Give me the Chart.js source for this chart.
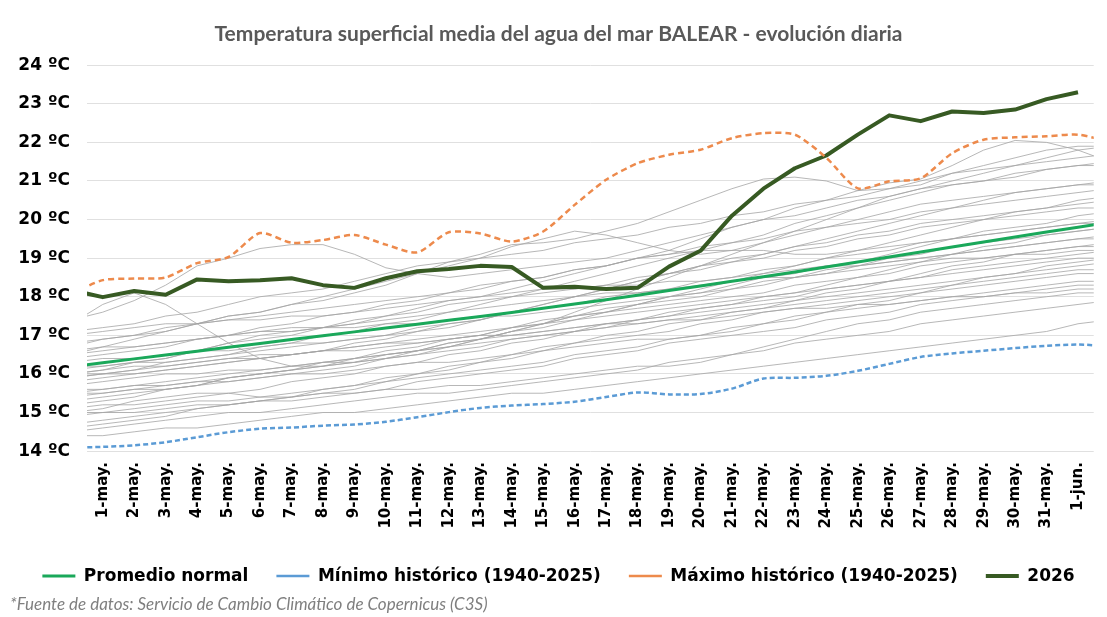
<!DOCTYPE html>
<html lang="es">
<head>
<meta charset="utf-8">
<title>Temperatura superficial media del agua del mar BALEAR</title>
<script src="https://cdn.jsdelivr.net/npm/chart.js@4.4.1/dist/chart.umd.min.js"></script>
<style>
  html, body { margin: 0; padding: 0; background: #fff; }
  #wrap { width: 1107px; height: 617px; }
</style>
</head>
<body>
<div id="wrap"><canvas id="grafico" width="1107" height="617"></canvas></div>
<script>
// dias: el primero (30-abr) y el ultimo (2-jun) quedan fuera del eje, solo se ven cortados en el borde
const dias = ['30-abr.',
  '1-may.', '2-may.', '3-may.', '4-may.', '5-may.', '6-may.', '7-may.', '8-may.', '9-may.', '10-may.',
  '11-may.', '12-may.', '13-may.', '14-may.', '15-may.', '16-may.', '17-may.', '18-may.', '19-may.', '20-may.',
  '21-may.', '22-may.', '23-may.', '24-may.', '25-may.', '26-may.', '27-may.', '28-may.', '29-may.', '30-may.',
  '31-may.', '1-jun.', '2-jun.'];

const promedioNormal = [16.18, 16.29, 16.39, 16.49, 16.59, 16.69, 16.79, 16.89, 16.99, 17.09, 17.19,
  17.29, 17.39, 17.49, 17.59, 17.70, 17.81, 17.92, 18.04, 18.16, 18.28, 18.40, 18.52, 18.64, 18.77,
  18.90, 19.03, 19.16, 19.29, 19.42, 19.55, 19.68, 19.80, 19.93];

const minimoHistorico = [14.09, 14.11, 14.15, 14.23, 14.36, 14.49, 14.58, 14.61, 14.66, 14.69, 14.76,
  14.88, 15.01, 15.12, 15.18, 15.22, 15.28, 15.40, 15.52, 15.47, 15.48, 15.62, 15.88, 15.90, 15.95,
  16.08, 16.26, 16.44, 16.53, 16.60, 16.67, 16.73, 16.76, 16.72];

const maximoHistorico = [18.07, 18.43, 18.47, 18.50, 18.87, 19.03, 19.65, 19.40, 19.47, 19.60, 19.35,
  19.15, 19.67, 19.64, 19.43, 19.69, 20.38, 21.03, 21.46, 21.68, 21.81, 22.11, 22.24, 22.20, 21.60,
  20.81, 20.99, 21.07, 21.72, 22.07, 22.13, 22.16, 22.20, 22.02];

const temp2026 = [18.17, 17.99, 18.15, 18.05, 18.45, 18.40, 18.43, 18.48, 18.30, 18.23, 18.48,
  18.66, 18.72, 18.80, 18.77, 18.23, 18.26, 18.20, 18.23, 18.78, 19.19, 20.10, 20.80, 21.33, 21.66,
  22.20, 22.70, 22.55, 22.80, 22.76, 22.85, 23.12, 23.30];

// años anteriores (1940-2025), una muestra de las curvas grises
const anosAnteriores = [
  [14.4, 14.4, 14.5, 14.6, 14.6, 14.7, 14.8, 14.9, 15.0, 15.0, 15.1, 15.2, 15.3, 15.4, 15.5, 15.5, 15.6, 15.7, 15.8, 15.9, 16.0, 16.1, 16.2, 16.3, 16.4, 16.5, 16.6, 16.7, 16.8, 16.9, 17.0, 17.1, 17.3, 17.4],
  [14.6, 14.7, 14.8, 14.9, 15.1, 15.2, 15.3, 15.3, 15.4, 15.5, 15.6, 15.6, 15.7, 15.7, 15.8, 15.9, 16.0, 16.1, 16.2, 16.2, 16.3, 16.5, 16.7, 16.9, 17.1, 17.3, 17.4, 17.6, 17.7, 17.8, 17.9, 18.0, 18.1, 18.1],
  [14.9, 15.0, 15.0, 15.1, 15.2, 15.2, 15.3, 15.4, 15.5, 15.5, 15.6, 15.8, 15.9, 16.0, 16.1, 16.2, 16.4, 16.5, 16.6, 16.8, 16.9, 17.0, 17.1, 17.2, 17.4, 17.5, 17.6, 17.8, 17.9, 18.0, 18.1, 18.2, 18.3, 18.3],
  [15.0, 15.1, 15.3, 15.4, 15.5, 15.5, 15.4, 15.4, 15.5, 15.6, 15.8, 16.0, 16.1, 16.3, 16.4, 16.6, 16.7, 16.8, 16.9, 16.9, 17.0, 17.1, 17.3, 17.4, 17.6, 17.7, 17.8, 17.9, 18.0, 18.1, 18.2, 18.3, 18.4, 18.4],
  [15.2, 15.3, 15.4, 15.6, 15.7, 15.8, 15.9, 16.0, 16.0, 16.1, 16.2, 16.3, 16.3, 16.4, 16.5, 16.6, 16.8, 16.9, 17.0, 17.1, 17.3, 17.4, 17.6, 17.7, 17.8, 17.9, 18.0, 18.1, 18.2, 18.3, 18.4, 18.5, 18.6, 18.6],
  [15.4, 15.5, 15.6, 15.6, 15.7, 15.9, 16.0, 16.1, 16.2, 16.3, 16.4, 16.6, 16.7, 16.8, 16.9, 17.0, 17.1, 17.2, 17.3, 17.4, 17.4, 17.5, 17.6, 17.7, 17.7, 17.8, 17.8, 17.9, 18.0, 18.0, 18.1, 18.1, 18.2, 18.2],
  [15.5, 15.5, 15.6, 15.7, 15.8, 15.9, 16.0, 16.1, 16.2, 16.4, 16.5, 16.6, 16.8, 16.9, 17.0, 17.1, 17.2, 17.3, 17.4, 17.6, 17.7, 17.8, 17.9, 18.0, 18.2, 18.3, 18.4, 18.5, 18.6, 18.7, 18.8, 18.9, 19.0, 19.0],
  [15.7, 15.8, 15.9, 16.0, 16.0, 16.1, 16.1, 16.2, 16.3, 16.3, 16.4, 16.5, 16.6, 16.7, 16.9, 17.0, 17.1, 17.3, 17.4, 17.5, 17.6, 17.7, 17.8, 17.9, 18.0, 18.1, 18.2, 18.3, 18.4, 18.5, 18.6, 18.7, 18.8, 18.9],
  [15.9, 16.0, 16.0, 16.1, 16.2, 16.3, 16.4, 16.5, 16.6, 16.6, 16.7, 16.8, 16.9, 17.0, 17.2, 17.3, 17.5, 17.6, 17.7, 17.8, 17.9, 18.0, 18.1, 18.3, 18.4, 18.5, 18.6, 18.8, 18.9, 19.0, 19.1, 19.2, 19.3, 19.3],
  [16.0, 16.0, 16.1, 16.2, 16.3, 16.4, 16.4, 16.5, 16.6, 16.7, 16.8, 16.9, 17.0, 17.1, 17.2, 17.4, 17.5, 17.6, 17.8, 17.9, 18.0, 18.2, 18.3, 18.5, 18.6, 18.8, 18.9, 19.0, 19.1, 19.2, 19.3, 19.4, 19.5, 19.6],
  [16.1, 16.2, 16.3, 16.4, 16.6, 16.8, 17.0, 17.1, 17.2, 17.2, 17.3, 17.3, 17.4, 17.5, 17.5, 17.6, 17.7, 17.8, 17.9, 18.0, 18.1, 18.2, 18.4, 18.5, 18.7, 18.8, 19.0, 19.1, 19.3, 19.4, 19.5, 19.6, 19.7, 19.8],
  [16.2, 16.2, 16.3, 16.3, 16.4, 16.5, 16.6, 16.7, 16.8, 16.9, 17.0, 17.2, 17.3, 17.4, 17.6, 17.7, 17.8, 18.0, 18.1, 18.2, 18.4, 18.5, 18.7, 18.8, 19.0, 19.1, 19.2, 19.4, 19.5, 19.6, 19.7, 19.8, 19.9, 20.0],
  [16.3, 16.4, 16.4, 16.5, 16.6, 16.6, 16.7, 16.8, 16.8, 16.9, 17.0, 17.1, 17.2, 17.4, 17.6, 17.8, 18.0, 18.2, 18.4, 18.6, 18.7, 18.9, 19.0, 19.2, 19.3, 19.5, 19.6, 19.8, 19.9, 20.0, 20.1, 20.2, 20.3, 20.3],
  [16.5, 16.6, 16.7, 16.8, 16.9, 17.0, 17.1, 17.1, 17.2, 17.3, 17.5, 17.6, 17.8, 17.9, 18.0, 18.1, 18.2, 18.3, 18.5, 18.6, 18.8, 19.0, 19.1, 19.3, 19.4, 19.6, 19.7, 19.9, 20.0, 20.1, 20.2, 20.3, 20.4, 20.5],
  [16.7, 16.9, 17.0, 17.2, 17.3, 17.4, 17.4, 17.5, 17.5, 17.6, 17.7, 17.8, 17.9, 18.0, 18.1, 18.2, 18.2, 18.3, 18.3, 18.4, 18.4, 18.5, 18.6, 18.7, 18.8, 18.8, 18.9, 19.0, 19.1, 19.2, 19.3, 19.4, 19.5, 19.5],
  [17.0, 17.1, 17.2, 17.3, 17.3, 17.4, 17.5, 17.6, 17.7, 17.8, 17.9, 18.0, 18.1, 18.2, 18.4, 18.5, 18.7, 18.8, 19.0, 19.1, 19.3, 19.4, 19.5, 19.7, 19.8, 19.9, 20.0, 20.2, 20.3, 20.4, 20.5, 20.6, 20.7, 20.8],
  [17.3, 17.8, 18.1, 17.8, 17.3, 16.8, 16.4, 16.2, 16.2, 16.3, 16.5, 16.6, 16.8, 16.9, 17.1, 17.2, 17.4, 17.5, 17.6, 17.7, 17.8, 17.9, 18.0, 18.1, 18.2, 18.3, 18.4, 18.5, 18.7, 18.8, 18.9, 19.0, 19.1, 19.2],
  [15.3, 15.4, 15.5, 15.6, 15.7, 15.9, 16.0, 16.1, 16.3, 16.4, 16.6, 16.7, 16.9, 17.0, 17.2, 17.3, 17.5, 17.7, 17.8, 18.0, 18.1, 18.3, 18.5, 18.6, 18.8, 18.9, 19.1, 19.3, 19.5, 19.7, 19.8, 19.9, 20.1, 20.2],
  [14.7, 14.8, 14.9, 15.0, 15.1, 15.2, 15.3, 15.4, 15.6, 15.7, 15.9, 16.0, 16.2, 16.3, 16.5, 16.7, 16.8, 17.0, 17.1, 17.3, 17.4, 17.6, 17.7, 17.9, 18.1, 18.2, 18.4, 18.6, 18.8, 18.9, 19.1, 19.2, 19.3, 19.4],
  [15.8, 15.9, 16.0, 16.1, 16.2, 16.3, 16.4, 16.5, 16.6, 16.8, 16.9, 17.1, 17.3, 17.4, 17.6, 17.8, 18.0, 18.2, 18.4, 18.6, 18.8, 18.9, 19.1, 19.3, 19.5, 19.7, 19.9, 20.1, 20.3, 20.5, 20.7, 20.8, 20.9, 21.0],
  [16.4, 16.5, 16.6, 16.7, 16.9, 17.0, 17.2, 17.3, 17.5, 17.6, 17.8, 17.9, 18.1, 18.3, 18.4, 18.5, 18.7, 18.8, 19.0, 19.1, 19.2, 19.2, 19.2, 19.1, 19.1, 19.2, 19.3, 19.4, 19.5, 19.6, 19.7, 19.8, 19.9, 19.9],
  [15.6, 15.6, 15.7, 15.7, 15.8, 15.8, 15.9, 16.0, 16.1, 16.2, 16.4, 16.5, 16.7, 16.9, 17.1, 17.3, 17.4, 17.6, 17.8, 18.0, 18.2, 18.4, 18.6, 18.8, 19.0, 19.2, 19.4, 19.6, 19.8, 20.0, 20.2, 20.3, 20.5, 20.6],
  [16.8, 16.9, 17.0, 17.1, 17.3, 17.5, 17.6, 17.8, 18.0, 18.2, 18.4, 18.6, 18.8, 19.0, 19.3, 19.5, 19.7, 19.6, 19.4, 19.2, 19.1, 19.2, 19.4, 19.6, 19.8, 20.0, 20.2, 20.4, 20.5, 20.6, 20.7, 20.8, 20.9, 20.9],
  [17.4, 17.6, 17.9, 18.3, 18.8, 19.0, 19.25, 19.35, 19.35, 19.1, 18.75, 18.6, 18.5, 18.6, 18.7, 18.8, 18.9, 19.0, 19.2, 19.4, 19.6, 19.8, 20.0, 20.1, 20.3, 20.5, 20.6, 20.8, 20.9, 21.0, 21.1, 21.3, 21.4, 21.5],
  [16.5, 16.7, 16.9, 17.1, 17.3, 17.5, 17.6, 17.8, 17.9, 18.1, 18.3, 18.6, 18.9, 19.1, 19.35, 19.4, 19.5, 19.7, 19.9, 20.2, 20.5, 20.8, 21.05, 21.1, 21.0, 20.75, 20.8, 20.9, 21.2, 21.3, 21.4, 21.5, 21.6, 21.7],
  [16.0, 16.1, 16.3, 16.4, 16.6, 16.8, 16.9, 17.0, 17.2, 17.4, 17.5, 17.7, 17.9, 18.0, 18.2, 18.4, 18.6, 18.8, 19.0, 19.2, 19.5, 19.8, 20.0, 20.3, 20.5, 20.75, 20.95, 21.05, 21.4, 21.8, 22.05, 22.0, 21.8, 21.5],
  [17.1, 17.2, 17.3, 17.5, 17.6, 17.8, 18.0, 18.1, 18.2, 18.4, 18.6, 18.8, 18.9, 19.0, 19.1, 19.2, 19.4, 19.5, 19.6, 19.8, 19.9, 20.1, 20.2, 20.4, 20.5, 20.6, 20.8, 21.0, 21.2, 21.4, 21.6, 21.8, 21.9, 21.9],
  [15.1, 15.2, 15.2, 15.3, 15.4, 15.5, 15.6, 15.8, 15.9, 16.0, 16.2, 16.3, 16.5, 16.6, 16.8, 16.9, 17.1, 17.2, 17.4, 17.5, 17.7, 17.8, 18.0, 18.1, 18.3, 18.5, 18.7, 18.9, 19.1, 19.3, 19.4, 19.6, 19.7, 19.8],
  [16.0, 16.1, 16.2, 16.2, 16.3, 16.4, 16.5, 16.5, 16.6, 16.7, 16.8, 16.8, 16.9, 17.0, 17.0, 17.1, 17.2, 17.3, 17.3, 17.4, 17.5, 17.6, 17.7, 17.8, 17.9, 18.0, 18.1, 18.2, 18.3, 18.4, 18.5, 18.6, 18.7, 18.7],
  [14.5, 14.6, 14.7, 14.8, 14.9, 15.0, 15.0, 15.1, 15.2, 15.3, 15.4, 15.5, 15.5, 15.6, 15.7, 15.8, 15.9, 16.0, 16.1, 16.3, 16.4, 16.5, 16.6, 16.8, 16.9, 17.0, 17.1, 17.3, 17.4, 17.5, 17.6, 17.7, 17.8, 17.9],
  [15.5, 15.6, 15.7, 15.8, 15.9, 16.0, 16.1, 16.2, 16.3, 16.4, 16.5, 16.6, 16.7, 16.9, 17.1, 17.3, 17.6, 17.9, 18.2, 18.5, 18.8, 19.1, 19.4, 19.7, 20.0, 20.3, 20.5, 20.7, 20.9, 21.0, 21.2, 21.3, 21.4, 21.4],
  [16.6, 16.7, 16.7, 16.8, 16.9, 17.0, 17.1, 17.2, 17.2, 17.3, 17.4, 17.5, 17.6, 17.7, 17.8, 17.9, 18.0, 18.1, 18.1, 18.2, 18.3, 18.4, 18.5, 18.5, 18.6, 18.7, 18.8, 18.9, 19.0, 19.0, 19.1, 19.1, 19.2, 19.2],
  [15.0, 15.0, 15.1, 15.2, 15.3, 15.3, 15.4, 15.5, 15.6, 15.7, 15.8, 15.9, 16.0, 16.1, 16.2, 16.3, 16.5, 16.6, 16.7, 16.9, 17.0, 17.2, 17.3, 17.5, 17.6, 17.8, 17.9, 18.1, 18.3, 18.5, 18.6, 18.8, 18.9, 19.0],
  [15.9, 16.0, 16.1, 16.3, 16.4, 16.5, 16.7, 16.8, 17.0, 17.1, 17.3, 17.4, 17.6, 17.8, 18.0, 18.2, 18.4, 18.6, 18.8, 19.0, 19.2, 19.4, 19.6, 19.9, 20.1, 20.3, 20.6, 20.8, 21.0, 21.2, 21.4, 21.6, 21.8, 21.9]
];

// eje x lineal: posicion = indice del dia
const puntos = serie => serie.map((v, i) => ({ x: i, y: v }));

const series = [
  { label: 'Promedio normal', data: puntos(promedioNormal), borderColor: '#1aa85a', backgroundColor: '#1aa85a', borderWidth: 3 },
  { label: 'Mínimo histórico (1940-2025)', data: puntos(minimoHistorico), borderColor: '#5b9bd5', backgroundColor: '#5b9bd5', borderWidth: 2.5, borderDash: [5, 3], tension: 0.3 },
  { label: 'Máximo histórico (1940-2025)', data: puntos(maximoHistorico), borderColor: '#ed8a4c', backgroundColor: '#ed8a4c', borderWidth: 2.5, borderDash: [6, 4], tension: 0.25 },
  { label: '2026', data: puntos(temp2026), borderColor: '#375a23', backgroundColor: '#375a23', borderWidth: 4 }
];

anosAnteriores.forEach(serie => {
  series.push({ label: '', data: puntos(serie), borderColor: 'rgba(165,165,165,0.8)', borderWidth: 1 });
});

const ctx = document.getElementById('grafico').getContext('2d');
const grafico = new Chart(ctx, {
  type: 'line',
  data: { datasets: series },
  options: {
    responsive: false,
    animation: false,
    layout: { padding: { left: 10, right: 0, top: 0, bottom: 0 } },
    elements: { point: { radius: 0 }, line: { borderCapStyle: 'butt', borderJoinStyle: 'round' } },
    scales: {
      x: {
        type: 'linear',
        min: 0.5,
        max: 32.5,
        grid: { display: false, drawTicks: false },
        border: { display: false },
        afterBuildTicks: scale => {
          scale.ticks = dias.slice(1, 33).map((d, k) => ({ value: k + 1 }));
        },
        ticks: {
          autoSkip: false,
          minRotation: 90,
          maxRotation: 90,
          padding: 11,
          color: '#000',
          font: { family: 'DejaVu Sans', weight: 'bold', size: 15 },
          callback: v => dias[v]
        }
      },
      y: {
        min: 14,
        max: 24,
        grid: { color: '#e0e0e0', drawTicks: false },
        border: { display: false },
        afterFit: scale => { scale.width = 77; },
        ticks: {
          stepSize: 1,
          padding: 17,
          color: '#000',
          font: { family: 'DejaVu Sans', weight: 'bold', size: 17 },
          callback: v => v + ' ºC'
        }
      }
    },
    plugins: {
      title: {
        display: true,
        text: 'Temperatura superficial media del agua del mar BALEAR - evolución diaria',
        color: '#595959',
        font: { family: 'Lato', weight: 'bold', size: 21 },
        padding: { top: 22, bottom: 18 }
      },
      legend: {
        position: 'bottom',
        labels: {
          filter: item => item.text !== '',
          usePointStyle: true,
          pointStyle: 'line',
          pointStyleWidth: 33,
          padding: 28,
          color: '#000',
          font: { family: 'DejaVu Sans', weight: 'bold', size: 17 }
        }
      },
      subtitle: {
        display: true,
        position: 'bottom',
        align: 'start',
        text: '*Fuente de datos: Servicio de Cambio Climático de Copernicus (C3S)',
        color: '#7f7f7f',
        font: { family: 'Lato', style: 'italic', size: 17 },
        padding: { top: 0, bottom: 2 }
      },
      tooltip: { enabled: false }
    }
  }
});
</script>
</body>
</html>
